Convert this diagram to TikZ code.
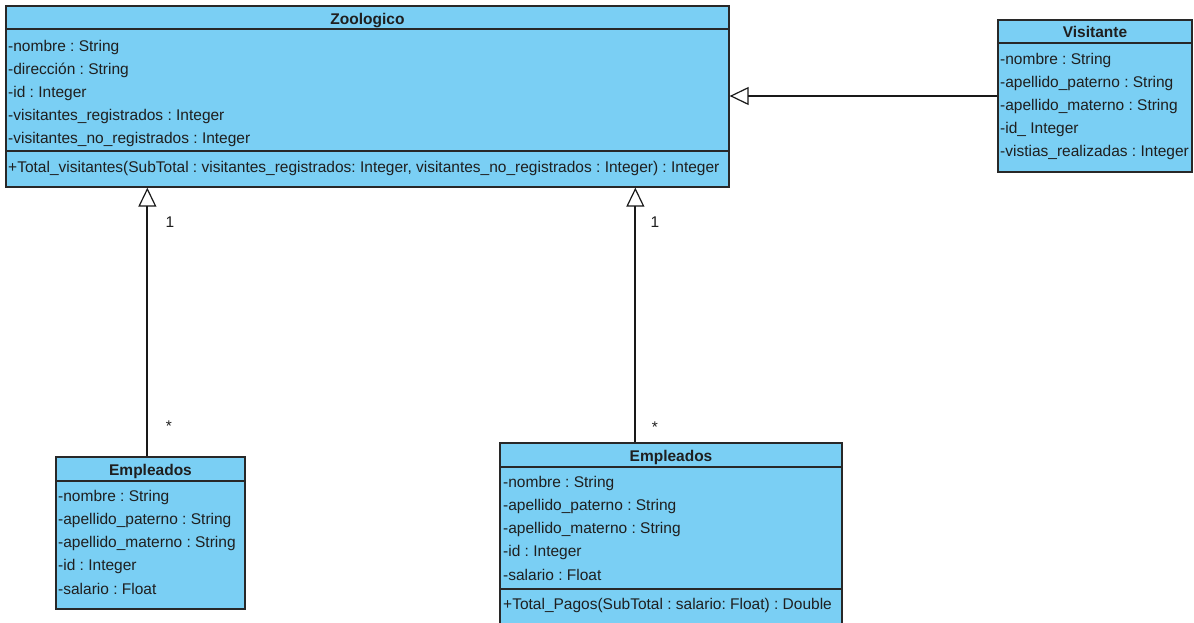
\documentclass[tikz,border=0pt]{standalone}
\usepackage{fontspec}
\setmainfont{Liberation Sans}
\usetikzlibrary{arrows.meta}
\definecolor{classfill}{RGB}{122,207,244}
\definecolor{classline}{RGB}{40,40,40}
\frenchspacing
\tikzset{
  cbox/.style={draw=classline, fill=classfill, line width=1.3pt, rectangle, inner sep=0pt},
  cline/.style={draw=classline, line width=1.3pt},
  attr/.style={anchor=base west, inner sep=0pt, font=\fontsize{15.5}{18}\selectfont\frenchspacing, text=black!88},
  ctitle/.style={anchor=base, inner sep=0pt, font=\fontsize{15.5}{18}\selectfont\bfseries, text=black!88},
  lbl/.style={anchor=base, inner sep=0pt, font=\fontsize{15.5}{18}\selectfont, text=black!88},
  gen/.style={draw=black!90, line width=1.8pt, -{Triangle[open, length=19pt, width=18pt, line width'=1.2pt]}}
}
\begin{document}
\begin{tikzpicture}[x=1pt,y=-1pt]
\useasboundingbox[fill=white] (0,0) rectangle (1194,622);

% Zoologico
\node[cbox, minimum width=723pt, minimum height=181pt] (zoo) at (367.5,96.5) {};
\draw[cline] (zoo.west |- 0,29) -- (zoo.east |- 0,29);
\draw[cline] (zoo.west |- 0,151) -- (zoo.east |- 0,151);
\node[ctitle] (zt) at (367.5,24) {Zoologico};
\node[attr] (z1) at (8,51) {-nombre : String};
\node[attr] (z2) at (8,74) {-dirección : String};
\node[attr] (z3) at (8,97) {-id : Integer};
\node[attr] (z4) at (8,120) {-visitantes\_registrados : Integer};
\node[attr] (z5) at (8,143) {-visitantes\_no\_registrados : Integer};
\node[attr] (zm) at (8,172) {+Total\_visitantes(SubTotal : visitantes\_registrados: Integer, visitantes\_no\_registrados : Integer) : Integer};

% Visitante
\node[cbox, minimum width=194pt, minimum height=152pt] (vis) at (1095,96) {};
\draw[cline] (vis.west |- 0,43) -- (vis.east |- 0,43);
\node[ctitle] (vt) at (1095,37) {Visitante};
\node[attr] (v1) at (1000,64) {-nombre : String};
\node[attr] (v2) at (1000,87) {-apellido\_paterno : String};
\node[attr] (v3) at (1000,110) {-apellido\_materno : String};
\node[attr] (v4) at (1000,133) {-id\_ Integer};
\node[attr] (v5) at (1000,156) {-vistias\_realizadas : Integer};

% Empleados (left)
\node[cbox, minimum width=189pt, minimum height=152pt] (emp1) at (150.5,533) {};
\draw[cline] (emp1.west |- 0,481) -- (emp1.east |- 0,481);
\node[ctitle] (e1t) at (150.5,475) {Empleados};
\node[attr] (a1) at (58,501) {-nombre : String};
\node[attr] (a2) at (58,524) {-apellido\_paterno : String};
\node[attr] (a3) at (58,547) {-apellido\_materno : String};
\node[attr] (a4) at (58,570) {-id : Integer};
\node[attr] (a5) at (58,594) {-salario : Float};

% Empleados (right)
\node[cbox, minimum width=342pt, minimum height=184pt] (emp2) at (671,535) {};
\draw[cline] (emp2.west |- 0,467) -- (emp2.east |- 0,467);
\draw[cline] (emp2.west |- 0,589) -- (emp2.east |- 0,589);
\node[ctitle] (e2t) at (671,461) {Empleados};
\node[attr] (b1) at (503,487) {-nombre : String};
\node[attr] (b2) at (503,510) {-apellido\_paterno : String};
\node[attr] (b3) at (503,533) {-apellido\_materno : String};
\node[attr] (b4) at (503,556) {-id : Integer};
\node[attr] (b5) at (503,580) {-salario : Float};
\node[attr] (bm) at (503,609) {+Total\_Pagos(SubTotal : salario: Float) : Double};

% connectors
\path (emp1.north west) ++(92,0) coordinate (e1top);
\path (emp2.north west) ++(136,0) coordinate (e2top);
\draw[gen] (vis.west) -- (zoo.east |- vis.west);
\draw[gen] (e1top) -- (e1top |- zoo.south);
\draw[gen] (e2top) -- (e2top |- zoo.south);

% multiplicities
\node[lbl] (m1) at (170,227) {1};
\node[lbl] (m2) at (655,227) {1};
\node[lbl] (s1) at (169,431) {*};
\node[lbl] (s2) at (655,432) {*};
\end{tikzpicture}
\end{document}
